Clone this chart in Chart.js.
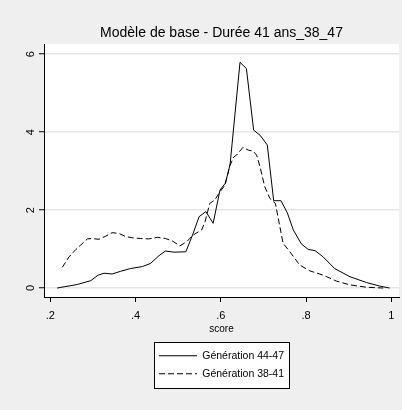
<!DOCTYPE html>
<html><head><meta charset="utf-8">
<script src="https://cdn.jsdelivr.net/npm/chart.js@4/dist/chart.umd.min.js"></script>
<style>html,body{margin:0;padding:0;background:#efefef;}canvas{display:block;}</style>
</head><body>
<canvas id="c" width="402" height="410"></canvas>
<script>
const chartTitle = 'Modèle de base - Durée 41 ans_38_47';
const xAxisTitle = 'score';
const seriesNames = ['Génération 44-47', 'Génération 38-41'];

const scoreGen4447 = [0.216,0.263,0.295,0.312,0.326,0.345,0.365,0.388,0.416,0.435,0.455,0.470,0.490,0.518,0.535,0.549,0.565,0.582,0.598,0.610,0.617,0.622,0.645,0.660,0.677,0.692,0.709,0.724,0.741,0.756,0.770,0.789,0.805,0.821,0.840,0.867,0.903,0.942,0.973,0.996];
const densityGen4447 = [0.00,0.09,0.19,0.33,0.38,0.36,0.43,0.50,0.55,0.63,0.83,0.95,0.92,0.93,1.40,1.83,1.96,1.66,2.51,2.68,2.95,3.20,5.79,5.63,4.05,3.92,3.67,2.24,2.24,1.93,1.49,1.13,0.99,0.96,0.80,0.50,0.29,0.14,0.05,0.00];

const scoreGen3841 = [0.228,0.244,0.260,0.271,0.287,0.298,0.314,0.330,0.345,0.361,0.377,0.392,0.412,0.431,0.451,0.470,0.486,0.504,0.520,0.535,0.555,0.563,0.574,0.586,0.598,0.610,0.620,0.630,0.637,0.652,0.664,0.676,0.684,0.692,0.703,0.715,0.728,0.746,0.762,0.785,0.809,0.840,0.871,0.903,0.942,0.981];
const densityGen3841 = [0.53,0.80,0.99,1.10,1.26,1.27,1.25,1.33,1.42,1.40,1.32,1.29,1.27,1.26,1.30,1.27,1.21,1.08,1.19,1.36,1.49,1.70,2.17,2.26,2.47,2.64,3.10,3.36,3.41,3.61,3.54,3.51,3.41,3.11,2.60,2.30,2.17,1.15,0.93,0.59,0.44,0.33,0.18,0.08,0.02,0.00];

const xTickValues = [0.2, 0.4, 0.6, 0.8, 1];
const xTickLabels = ['.2', '.4', '.6', '.8', '1'];
const yTickValues = [0, 2, 4, 6];
const yTickLabels = ['0', '2', '4', '6'];

const FONT = '"Liberation Sans Narrow", "Arial Narrow", "Liberation Sans", Arial, sans-serif';
Chart.defaults.font.family = FONT;
Chart.defaults.color = '#000';

// Stack legend items in a column (Stata-style legend box)
const ROW_LIMIT = 140;
const LegendEl = Chart.registry.getPlugin('legend')._element;
const origFit = LegendEl.prototype.fit;
LegendEl.prototype.fit = function () {
  if (!this.isHorizontal()) return origFit.call(this);
  const mw = this.maxWidth;
  this.maxWidth = Math.min(mw, ROW_LIMIT);
  origFit.call(this);
  this.maxWidth = mw;
  this.width = mw;
};
const origDraw = LegendEl.prototype.draw;
LegendEl.prototype.draw = function () {
  if (!this.isHorizontal()) return origDraw.call(this);
  const l = this.left, r = this.right, c = (l + r) / 2;
  this.left = c - ROW_LIMIT / 2; this.right = c + ROW_LIMIT / 2;
  try { origDraw.call(this); } finally { this.left = l; this.right = r; }
};

const bgPlugin = {
  id: 'bg',
  beforeDraw(chart) {
    const {ctx, chartArea: a} = chart;
    ctx.save();
    ctx.fillStyle = '#efefef';
    ctx.fillRect(0, 0, chart.width, chart.height);
    ctx.fillStyle = '#ffffff';
    ctx.fillRect(a.left, a.top, a.right - a.left, a.bottom - a.top);
    const hb = chart.legend && chart.legend.legendHitBoxes;
    if (hb && hb.length) {
      let l = Infinity, r = -Infinity, t = Infinity, b = -Infinity;
      hb.forEach(h => { l = Math.min(l, h.left); r = Math.max(r, h.left + h.width); t = Math.min(t, h.top); b = Math.max(b, h.top + h.height); });
      const x0 = Math.round(l - 5) + 0.5, x1 = Math.round(r + 5) + 0.5;
      const y0 = Math.round(t - 8.5) + 0.5, y1 = Math.round(b + 9) + 0.5;
      ctx.fillStyle = '#ffffff';
      ctx.fillRect(x0, y0, x1 - x0, y1 - y0);
      ctx.strokeStyle = '#000';
      ctx.lineWidth = 1;
      ctx.strokeRect(x0, y0, x1 - x0, y1 - y0);
    }
    ctx.restore();
  }
};

new Chart(document.getElementById('c'), {
  type: 'line',
  data: {
    datasets: [
      {
        label: seriesNames[0],
        data: scoreGen4447.map((x, i) => ({x, y: densityGen4447[i]})),
        borderColor: '#000', backgroundColor: '#000', borderWidth: 1,
        pointRadius: 0, tension: 0, fill: false
      },
      {
        label: seriesNames[1],
        data: scoreGen3841.map((x, i) => ({x, y: densityGen3841[i]})),
        borderColor: '#000', backgroundColor: '#000', borderWidth: 1, borderDash: [6, 3],
        pointRadius: 0, tension: 0, fill: false
      }
    ]
  },
  options: {
    responsive: false,
    animation: false,
    devicePixelRatio: 1,
    events: [],
    layout: { padding: { left: 0, right: 3, top: 0, bottom: 21 } },
    scales: {
      x: {
        type: 'linear', min: 0.1852, max: 1.018,
        afterBuildTicks: s => { s.ticks = xTickValues.map(v => ({value: v})); },
        afterFit: s => { s.height = 46; },
        ticks: { callback: (v, i) => xTickLabels[i], autoSkip: false, maxRotation: 0, padding: 7, font: {size: 11}, color: '#000' },
        grid: { drawOnChartArea: false, drawTicks: true, tickLength: 5, tickColor: '#000', tickWidth: 1 },
        border: { color: '#000', width: 1 },
        title: { display: true, text: xAxisTitle, font: {size: 10}, color: '#000', padding: {top: 0, bottom: 7.5} }
      },
      y: {
        type: 'linear', min: -0.23, max: 6.26,
        afterBuildTicks: s => { s.ticks = yTickValues.map(v => ({value: v})); },
        afterFit: s => { s.width = 44; },
        ticks: { callback: (v, i) => yTickLabels[i], minRotation: 90, maxRotation: 90, crossAlign: 'center', padding: 5, font: {size: 11}, color: '#000' },
        grid: { color: '#e6e6e6', lineWidth: 1.5, drawTicks: true, tickLength: 5, tickColor: '#000', tickWidth: 1 },
        border: { color: '#000', width: 1 }
      }
    },
    plugins: {
      title: { display: true, text: chartTitle, fullSize: false, font: {size: 14, weight: 'normal'}, color: '#000', padding: {top: 24.9, bottom: 2.3} },
      legend: {
        display: true, position: 'bottom', fullSize: false,
        labels: {
          usePointStyle: true, pointStyle: 'line', pointStyleWidth: 38, font: {size: 10.5}, color: '#000', padding: 7.5,
          generateLabels: chart => Chart.defaults.plugins.legend.labels.generateLabels(chart).map(item => {
            const ds = chart.data.datasets[item.datasetIndex];
            item.lineDash = ds.borderDash || [];
            item.lineWidth = ds.borderWidth;
            item.strokeStyle = ds.borderColor;
            return item;
          })
        }
      },
      tooltip: { enabled: false }
    }
  },
  plugins: [bgPlugin]
});
</script>
</body></html>
